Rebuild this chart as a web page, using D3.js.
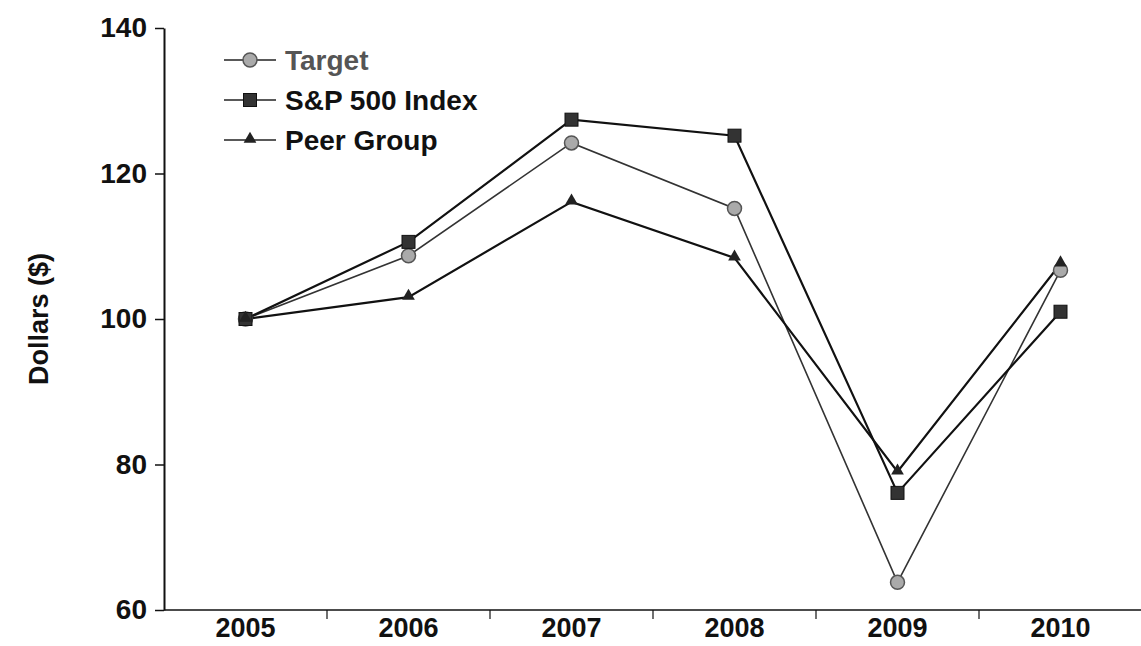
<!DOCTYPE html>
<html>
<head>
<meta charset="utf-8">
<script src="https://cdn.jsdelivr.net/npm/d3@7"></script>
<style>
  body { margin: 0; background: #fff; }
  text { font-family: "Liberation Sans", Arial, sans-serif; font-weight: bold; }
</style>
</head>
<body>
<div id="chart"></div>
<script>
const years = ["2005", "2006", "2007", "2008", "2009", "2010"]
const target = [100, 108.7, 124.2, 115.2, 63.8, 106.7]
const sp500 = [100, 110.6, 127.4, 125.2, 76.1, 101.0]
const peer = [100, 103.0, 116.1, 108.4, 79.0, 107.6]
const yTicks = [60, 80, 100, 120, 140]

const series = [
    {name: "Target", values: target, marker: "circle"},
    {name: "S&P 500 Index", values: sp500, marker: "square"},
    {name: "Peer Group", values: peer, marker: "triangle"}
]

const width = 1141, height = 646
const margin = {top: 28, right: 0, bottom: 36, left: 164}

const svg = d3.select("#chart")
    .append("svg")
    .attr("width", width)
    .attr("height", height)

const x = d3.scaleBand()
    .domain(years)
    .range([margin.left, 1142])

const y = d3.scaleLinear()
    .domain([60, 140])
    .range([height - margin.bottom, margin.top])

//Y axis
const yAxis = svg.append("g")
    .attr("transform", "translate(" + margin.left + ",0)")
    .call(d3.axisLeft(y).tickValues(yTicks).tickSize(9).tickPadding(8).tickSizeOuter(0))
yAxis.select(".domain").attr("stroke", "#111").attr("stroke-width", 2)
yAxis.selectAll(".tick line").attr("stroke", "#111").attr("stroke-width", 1.5)
yAxis.selectAll(".tick text")
    .attr("font-size", 28)
    .attr("fill", "#111")
    .style("font-family", "'Liberation Sans', Arial, sans-serif")
    .style("font-weight", "bold")

//X axis line and ticks between years
const xAxisY = y(60)
svg.append("line")
    .attr("x1", margin.left).attr("x2", width)
    .attr("y1", xAxisY).attr("y2", xAxisY)
    .attr("stroke", "#111").attr("stroke-width", 1.5)

svg.selectAll(".xtick")
    .data(years.slice(1))
    .enter()
    .append("line")
    .attr("x1", d => x(d)).attr("x2", d => x(d))
    .attr("y1", xAxisY).attr("y2", xAxisY + 9)
    .attr("stroke", "#111").attr("stroke-width", 1.2)

svg.selectAll(".xlabel")
    .data(years)
    .enter()
    .append("text")
    .attr("x", d => x(d) + x.bandwidth() / 2)
    .attr("y", 637)
    .attr("text-anchor", "middle")
    .attr("font-size", 27)
    .attr("fill", "#111")
    .text(d => d)

//Y axis title
svg.append("text")
    .attr("transform", "translate(48," + ((y(60) + y(140)) / 2) + ") rotate(-90)")
    .attr("text-anchor", "middle")
    .attr("font-size", 27)
    .attr("fill", "#111")
    .text("Dollars ($)")

const cx = d => x(d) + x.bandwidth() / 2

function drawMarker(g, type, px, py) {
    if (type === "circle") {
        g.append("circle")
            .attr("cx", px).attr("cy", py).attr("r", 7)
            .attr("fill", "#aaa").attr("stroke", "#555").attr("stroke-width", 1.5)
    } else if (type === "square") {
        g.append("rect")
            .attr("x", px - 6.5).attr("y", py - 6.5)
            .attr("width", 13).attr("height", 13)
            .attr("fill", "#333").attr("stroke", "#111").attr("stroke-width", 1)
    } else {
        g.append("path")
            .attr("d", d3.symbol(d3.symbolTriangle, 70)())
            .attr("transform", "translate(" + px + "," + (py - 1) + ")")
            .attr("fill", "#222")
    }
}

//Lines and markers
const line = d3.line()
    .x((d, i) => cx(years[i]))
    .y(d => y(d))

series.forEach(s => {
    svg.append("path")
        .datum(s.values)
        .attr("d", line)
        .attr("fill", "none")
        .attr("stroke", s.marker === "circle" ? "#333" : "#111")
        .attr("stroke-width", s.marker === "circle" ? 1.6 : 2.2)
})

series.forEach(s => {
    const g = svg.append("g")
    s.values.forEach((v, i) => drawMarker(g, s.marker, cx(years[i]), y(v)))
})

//Legend
const legend = svg.append("g")
series.forEach((s, i) => {
    const ly = 60 + i * 40
    legend.append("line")
        .attr("x1", 224).attr("x2", 276)
        .attr("y1", ly).attr("y2", ly)
        .attr("stroke", "#222").attr("stroke-width", 1.6)
    drawMarker(legend, s.marker, 250, ly)
    legend.append("text")
        .attr("x", 285)
        .attr("y", ly + 10)
        .attr("font-size", 28)
        .attr("fill", i === 0 ? "#555" : "#111")
        .text(s.name)
})
</script>
</body>
</html>
